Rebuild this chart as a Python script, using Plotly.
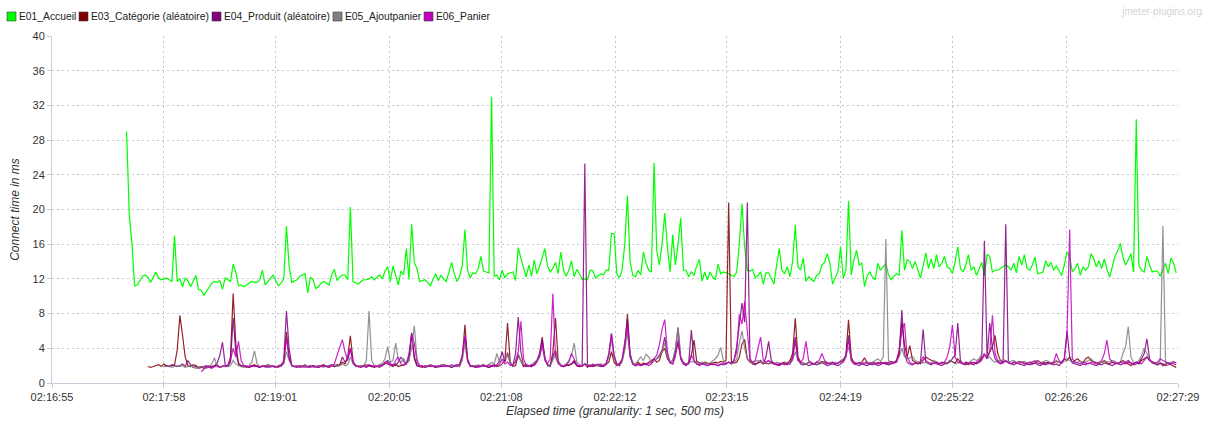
import plotly.graph_objects as go
import pandas as pd

DAY = "2024-01-01 "
TICK_LABELS = ["02:16:55", "02:17:58", "02:19:01", "02:20:05", "02:21:08", "02:22:12",
               "02:23:15", "02:24:19", "02:25:22", "02:26:26", "02:27:29"]
X_START, X_END = "02:16:55", "02:27:29"
Y_TICKS = [0, 4, 8, 12, 16, 20, 24, 28, 32, 36, 40]
STEP = "1500ms"

NAMES = ["E01_Accueil", "E03_Catégorie (aléatoire)", "E04_Produit (aléatoire)",
         "E05_Ajoutpanier", "E06_Panier"]
COLORS = ["#00FF00", "#800000", "#800080", "#808080", "#C000C0"]
STARTS = ["02:17:37", "02:17:49", "02:17:58", "02:17:58", "02:18:19"]

E01 = [
    29.0, 19.4, 16.1, 11.2, 11.3, 11.8, 12.3, 12.45, 12.2, 11.6, 12.2, 12.8, 12.1, 11.9, 12.0, 12.1, 11.9, 11.7, 17.0, 11.7,
    12.0, 11.1, 12.1, 11.8, 11.1, 11.8, 12.4, 10.8, 10.7, 10.1, 10.6, 11.1, 11.5, 11.7, 11.6, 11.8, 10.8, 12.1, 11.9, 11.7,
    13.7, 12.8, 11.2, 11.3, 11.1, 11.3, 11.5, 11.7, 11.6, 11.6, 11.9, 13.0, 11.3, 11.7, 12.1, 12.45, 11.8, 11.2, 11.5, 12.0,
    18.1, 13.5, 11.6, 11.8, 11.9, 12.3, 12.45, 12.6, 10.4, 12.2, 11.9, 10.9, 11.1, 11.5, 11.7, 11.5, 11.3, 12.45, 13.1, 11.8,
    12.2, 12.45, 12.45, 11.9, 20.3, 11.7, 11.5, 11.4, 11.7, 11.9, 11.9, 12.0, 12.25, 11.9, 12.2, 12.45, 12.0, 12.9, 13.4, 11.7,
    13.5, 12.4, 11.3, 12.9, 12.45, 15.5, 11.95, 18.3, 13.9, 13.2, 11.7, 11.8, 11.9, 11.6, 11.2, 11.9, 12.6, 11.8, 12.4, 12.0,
    11.7, 12.8, 13.9, 12.6, 11.7, 12.25, 13.5, 17.7, 13.0, 12.1, 12.7, 12.6, 13.2, 14.6, 12.9, 12.8, 12.7, 33.0, 12.3, 12.45,
    11.9, 13.0, 12.1, 12.6, 12.7, 12.8, 11.8, 15.6, 14.4, 13.2, 12.2, 13.6, 12.3, 14.2, 12.6, 13.4, 14.5, 15.5, 13.5, 12.8,
    13.2, 13.9, 12.6, 15.1, 13.0, 12.3, 13.0, 14.1, 12.25, 13.1, 12.6, 11.95, 12.0, 11.9, 13.0, 12.95, 12.1, 12.3, 12.6, 12.45,
    13.0, 12.95, 17.25, 17.2, 12.6, 12.1, 13.0, 16.0, 21.6, 14.0, 12.45, 12.25, 13.0, 12.45, 15.1, 13.8, 13.0, 12.8, 25.4, 15.3,
    13.6, 16.0, 19.6, 15.7, 12.8, 17.1, 13.6, 16.0, 19.0, 13.0, 13.0, 12.25, 12.8, 12.4, 13.5, 14.25, 11.75, 12.8, 11.9, 12.8,
    12.2, 11.95, 13.7, 12.6, 12.8, 12.7, 12.6, 12.4, 12.25, 12.8, 16.0, 20.7, 15.7, 13.0, 12.9, 13.1, 12.1, 12.4, 12.8, 11.4,
    12.7, 12.7, 12.0, 11.4, 13.6, 15.5, 13.0, 12.6, 13.4, 12.25, 14.0, 18.2, 13.4, 13.0, 14.4, 11.7, 12.25, 12.0, 11.7, 12.4,
    12.6, 13.6, 13.9, 14.9, 13.8, 11.4, 12.2, 12.8, 15.7, 12.1, 13.0, 21.0, 12.45, 14.2, 15.3, 13.6, 13.8, 11.1, 12.4, 12.8,
    12.2, 11.9, 13.8, 13.0, 13.4, 13.8, 12.45, 11.9, 12.3, 12.6, 12.45, 17.6, 13.0, 14.2, 14.0, 13.2, 14.0, 13.0, 12.1, 13.5,
    15.0, 13.2, 14.3, 13.2, 14.8, 13.4, 13.8, 14.6, 13.4, 13.2, 12.6, 14.0, 15.7, 13.2, 12.8, 13.6, 14.8, 13.0, 13.4, 12.4,
    13.2, 13.9, 12.4, 14.8, 14.6, 12.8, 13.0, 13.0, 13.2, 13.4, 13.6, 13.4, 13.0, 13.8, 12.7, 14.6, 13.6, 14.8, 13.2, 13.0,
    13.6, 14.5, 12.6, 12.7, 12.8, 14.1, 13.4, 13.9, 13.0, 13.5, 13.0, 12.4, 13.6, 15.1, 14.6, 12.8, 13.2, 13.8, 12.4, 13.4,
    13.0, 13.4, 14.9, 14.4, 13.4, 14.1, 13.2, 14.3, 13.1, 12.2, 13.4, 14.6, 15.2, 16.1, 14.5, 13.6, 14.2, 14.9, 12.8, 30.4,
    13.5, 13.0, 12.8, 14.6, 13.6, 12.8, 12.9, 12.9, 12.3, 13.0, 13.8, 12.6, 14.4, 13.8, 12.7,
]

E03 = [
    1.9, 1.8, 1.9, 2.0, 2.1, 1.9, 2.2, 2.0, 1.9, 2.0, 2.1, 3.8,
    7.8, 5.5, 3.0, 2.0, 1.9, 2.1, 2.0, 1.8, 1.9, 1.7, 1.9, 2.0, 1.8, 1.9, 2.1, 1.8, 1.9, 2.0, 1.9, 3.0,
    10.3, 4.5, 2.2, 1.9, 2.0, 1.8, 1.9, 2.0, 2.1, 1.9, 1.8, 2.0, 1.9, 2.1, 2.0, 1.9, 1.8, 2.0, 2.1, 2.4,
    5.9, 3.0, 2.0, 1.9, 1.8, 2.0, 1.9, 2.1, 1.8, 1.9, 2.0, 1.9, 1.8, 2.0, 2.1, 1.9, 1.8, 2.0, 1.9, 2.1,
    2.0, 2.4, 2.2, 3.0, 5.45, 2.5, 2.0, 1.9, 1.8, 2.0, 2.1, 2.0, 1.9, 1.8, 1.9, 2.1, 2.0, 2.3, 2.2, 2.0,
    1.9, 2.2, 1.9, 2.0, 2.1, 2.3, 2.6, 5.8, 2.8, 2.0, 1.9, 1.8, 2.0, 1.9, 2.1, 1.9, 1.8, 2.0, 1.9, 2.1,
    2.0, 1.9, 1.8, 2.0, 2.1, 1.9, 2.8, 6.7, 2.6, 1.9, 2.0, 1.8, 1.9, 2.0, 2.1, 1.9, 1.8, 2.0, 2.1, 1.9,
    2.0, 2.2, 2.6, 6.9, 2.4, 1.9, 2.0, 3.2, 2.5, 1.9, 2.1, 2.0, 1.9, 2.2, 2.6, 3.2, 5.3, 2.8, 2.1, 2.0,
    3.5, 7.5, 2.6, 2.0, 1.9, 2.1, 2.0, 2.2, 2.6, 2.0, 1.9, 2.0, 2.2, 1.8, 2.1, 1.9, 2.0, 2.0, 2.1, 1.9,
    2.2, 2.4, 3.6, 2.4, 2.0, 2.3, 2.6, 4.0, 7.95, 3.2, 2.2, 2.0, 2.4, 2.1, 2.3, 2.2, 2.4, 2.6, 2.8, 2.4,
    2.6, 3.6, 4.0, 2.8, 2.4, 2.6, 3.6, 4.6, 3.0, 2.4, 2.2, 2.3, 3.2, 4.95, 2.5, 2.3, 2.2, 2.4, 2.3, 2.2,
    2.3, 2.4, 2.3, 2.5, 2.4, 2.6, 20.8, 2.5, 2.3, 2.4, 3.0, 4.5, 5.0, 2.8, 2.4, 2.3, 2.2, 2.3, 2.4, 2.2,
    2.3, 2.2, 2.4, 2.3, 2.2, 2.1, 2.3, 2.4, 2.2, 2.6, 3.4, 7.45, 3.0, 2.4, 2.3, 2.2, 2.4, 2.3, 2.2, 2.4,
    2.3, 2.5, 2.4, 2.2, 2.3, 2.4, 2.2, 2.3, 2.5, 2.6, 3.2, 7.3, 3.0, 2.4, 2.3, 2.2, 2.4, 2.9, 2.3, 2.2,
    2.4, 2.3, 2.2, 2.4, 2.3, 2.2, 2.4, 2.5, 2.3, 2.6, 3.8, 7.0, 4.4, 3.0, 4.3, 2.6, 2.4, 2.3, 2.2, 2.6,
    3.0, 2.8, 2.6, 2.4, 2.3, 2.2, 2.4, 2.3, 2.2, 2.6, 2.4, 2.3, 2.8, 2.4, 2.2, 2.3, 2.1, 2.4, 2.3, 2.2,
    2.4, 2.8, 3.2, 3.0, 3.6, 4.2, 5.5, 3.4, 2.6, 2.4, 2.5, 2.3, 2.2, 2.4, 2.3, 2.5, 2.4, 2.2, 2.3, 2.4,
    2.2, 2.3, 2.6, 2.4, 2.2, 2.3, 2.4, 2.2, 2.3, 2.5, 2.4, 2.3, 2.8, 2.6, 3.0, 2.4, 2.6, 2.8, 2.5, 2.3,
    2.8, 3.0, 2.6, 2.4, 2.3, 2.2, 2.4, 2.6, 2.3, 2.2, 2.4, 2.3, 2.2, 2.4, 2.6, 2.3, 2.2, 2.0, 2.3, 2.4,
    2.2, 2.6, 2.8, 3.0, 2.6, 2.4, 2.2, 2.1, 2.3, 2.0, 2.2, 2.3, 2.1, 1.9, 1.8,
]

E04 = [
    1.9, 2.0, 1.9, 2.1, 2.0, 1.9,
    2.0, 2.2, 1.9, 2.6, 2.1, 1.8, 1.9, 1.7, 1.8, 1.9, 2.0, 1.8, 1.9, 2.0, 2.3, 3.2, 4.7, 2.1, 1.9, 2.4,
    7.5, 3.5, 2.3, 2.0, 1.9, 2.0, 1.8, 1.9, 2.0, 1.9, 1.8, 2.0, 1.9, 1.8, 2.0, 1.9, 1.8, 1.9, 2.0, 2.6,
    8.3, 4.0, 2.0, 1.9, 2.0, 1.8, 1.9, 2.0, 1.9, 1.8, 2.0, 1.9, 1.8, 1.9, 2.0, 1.9, 2.0, 2.1, 1.9, 2.0,
    2.1, 3.0, 2.4, 2.8, 4.0, 2.3, 2.0, 1.9, 2.0, 1.9, 1.8, 2.0, 1.9, 2.0, 1.9, 1.8, 2.0, 2.4, 2.6, 2.2,
    2.1, 2.0, 2.4, 3.0, 2.5, 2.2, 3.0, 5.5, 3.0, 2.0, 1.9, 2.0, 1.8, 1.9, 2.0, 1.9, 1.8, 2.0, 1.9, 2.0,
    1.9, 2.0, 1.8, 1.9, 2.0, 2.1, 3.0, 5.3, 2.8, 2.0, 1.9, 1.8, 2.0, 1.9, 2.0, 1.9, 1.8, 1.9, 2.0, 2.1,
    2.6, 3.6, 2.4, 3.5, 2.2, 2.0, 3.4, 7.6, 3.6, 2.0, 1.9, 2.0, 1.9, 2.1, 2.5, 3.4, 5.0, 3.0, 2.0, 1.9,
    3.0, 3.8, 2.4, 2.0, 1.9, 2.0, 2.1, 2.2, 2.4, 2.0, 1.9, 2.0, 25.3, 2.0, 1.9, 2.0, 2.1, 2.0, 1.9, 2.0,
    2.2, 3.2, 5.7, 3.0, 2.2, 2.0, 2.6, 4.4, 7.3, 3.4, 2.2, 2.0, 2.2, 2.0, 2.1, 2.2, 2.0, 2.2, 2.6, 2.8,
    3.2, 3.8, 5.3, 3.0, 2.3, 2.2, 3.6, 6.4, 2.8, 2.2, 2.0, 2.4, 6.1, 2.6, 2.2, 2.1, 2.3, 2.2, 2.0, 2.1,
    2.2, 2.1, 2.0, 2.2, 2.1, 2.2, 2.4, 2.2, 2.6, 4.2, 6.5, 9.2, 7.0, 20.8, 2.6, 2.2, 2.1, 2.3, 2.6, 2.2,
    3.0, 4.8, 2.6, 2.2, 2.1, 2.0, 2.2, 2.1, 2.3, 2.2, 3.0, 5.3, 2.8, 2.2, 2.1, 2.2, 2.0, 2.1, 2.2, 2.1,
    2.2, 2.3, 2.2, 2.0, 2.1, 2.2, 2.1, 2.0, 2.2, 2.4, 3.0, 5.5, 2.6, 2.2, 2.1, 2.0, 2.2, 2.1, 2.0, 2.2,
    2.1, 2.2, 2.0, 2.1, 2.3, 2.2, 2.1, 2.2, 2.3, 2.4, 3.2, 8.4, 3.4, 2.4, 2.2, 2.1, 2.3, 2.2, 2.4, 6.2,
    2.4, 2.2, 2.1, 2.3, 2.2, 2.1, 2.0, 2.2, 2.3, 2.4, 2.8, 3.2, 6.9, 2.6, 2.2, 2.1, 2.3, 2.2, 2.1, 2.4,
    2.6, 3.0, 16.4, 3.0, 6.9, 4.0, 2.8, 2.4, 2.2, 2.3, 18.3, 2.4, 2.2, 2.1, 2.3, 2.2, 2.1, 2.0, 2.2, 2.1,
    2.2, 2.3, 2.1, 2.0, 2.2, 2.1, 2.3, 2.2, 2.1, 2.2, 2.0, 2.4, 2.8, 6.0, 3.0, 2.3, 2.2, 2.1, 2.0, 2.2,
    2.1, 2.3, 2.2, 2.1, 2.0, 2.2, 2.1, 2.3, 2.2, 2.1, 2.0, 2.2, 2.3, 2.1, 2.2, 2.4, 2.6, 2.3, 2.1, 2.2,
    2.4, 2.8, 3.4, 5.1, 2.8, 2.3, 2.2, 2.1, 2.3, 2.2, 2.0, 2.1, 2.3, 2.2, 2.1,
]

E05 = [
    2.0, 1.9, 2.0, 1.8, 1.9, 2.0,
    1.9, 2.0, 1.8, 1.9, 2.0, 1.8, 1.7, 1.8, 1.9, 1.8, 1.7, 1.9, 2.2, 2.9, 1.9, 1.8, 1.9, 2.0, 1.9, 2.0,
    2.6, 2.2, 2.0, 1.9, 1.8, 1.9, 2.0, 2.4, 3.7, 2.2, 1.9, 2.0, 1.8, 1.9, 2.0, 1.9, 1.8, 2.0, 1.9, 2.2,
    3.6, 2.6, 2.1, 1.9, 2.0, 1.9, 1.8, 2.0, 1.9, 2.0, 1.8, 1.9, 2.0, 1.9, 1.8, 2.0, 1.9, 2.0, 2.1, 1.9,
    2.0, 2.2, 2.0, 2.1, 3.0, 2.2, 1.9, 2.0, 1.9, 2.0, 2.6, 8.3, 2.6, 2.0, 1.9, 2.1, 2.3, 2.8, 4.2, 2.4,
    2.6, 4.6, 2.6, 2.4, 2.8, 2.2, 2.6, 4.0, 6.6, 2.8, 2.0, 1.9, 2.0, 1.9, 2.0, 1.9, 2.0, 1.9, 2.1, 2.0,
    1.9, 2.0, 1.9, 2.0, 2.1, 2.0, 2.6, 4.5, 2.4, 2.0, 1.9, 2.0, 2.1, 2.0, 1.9, 2.0, 2.1, 2.4, 2.2, 3.4,
    2.4, 2.6, 2.8, 3.2, 2.4, 2.0, 2.6, 3.4, 2.6, 2.1, 2.2, 2.0, 2.1, 2.4, 2.6, 3.0, 4.2, 2.8, 2.2, 2.0,
    2.6, 3.4, 2.4, 2.1, 2.0, 2.2, 2.6, 3.2, 4.6, 2.4, 2.1, 2.0, 2.2, 2.1, 2.0, 2.2, 2.1, 2.0, 2.2, 2.1,
    2.3, 3.0, 5.0, 2.8, 2.2, 2.1, 2.4, 3.8, 5.8, 3.0, 2.4, 2.2, 2.6, 3.0, 2.6, 3.3, 3.0, 2.4, 2.6, 2.8,
    3.0, 3.6, 4.6, 3.0, 2.4, 2.6, 4.0, 6.4, 3.0, 2.3, 2.2, 2.3, 2.5, 2.4, 2.3, 2.2, 2.4, 2.3, 2.2, 2.3,
    2.5, 2.8, 3.2, 4.1, 2.6, 2.3, 2.4, 2.2, 2.3, 2.8, 4.6, 6.0, 4.0, 2.8, 2.4, 2.3, 2.5, 2.6, 2.4, 2.3,
    2.4, 2.6, 2.3, 2.2, 2.4, 2.3, 2.2, 2.3, 2.4, 2.2, 2.6, 3.6, 2.6, 2.4, 2.3, 2.2, 2.3, 2.4, 2.2, 2.3,
    2.4, 2.3, 2.5, 2.4, 2.2, 2.3, 2.4, 2.2, 2.6, 2.8, 3.0, 4.2, 2.8, 2.4, 2.2, 2.3, 2.4, 2.3, 2.2, 2.4,
    2.3, 2.6, 2.8, 2.5, 3.0, 16.6, 2.6, 2.3, 2.4, 2.6, 3.0, 4.0, 3.0, 2.8, 2.9, 3.1, 2.6, 2.4, 2.5, 2.3,
    2.4, 2.2, 2.3, 2.6, 2.4, 2.3, 2.2, 2.4, 2.3, 2.6, 2.4, 2.2, 2.3, 2.4, 2.2, 2.4, 2.3, 2.6, 2.8, 2.6,
    2.8, 3.4, 3.2, 2.8, 3.0, 2.6, 2.4, 2.6, 2.5, 2.7, 2.6, 2.4, 2.5, 2.6, 2.4, 2.3, 2.4, 2.5, 2.3, 2.4,
    2.4, 2.5, 2.3, 2.2, 2.4, 2.6, 2.5, 2.3, 2.4, 2.6, 2.4, 2.3, 2.5, 2.8, 2.6, 2.4, 2.3, 2.4, 2.5, 2.3,
    2.4, 2.6, 2.8, 2.5, 2.4, 2.3, 2.4, 2.3, 2.5, 2.4, 2.6, 2.5, 2.3, 2.4, 3.4, 4.2, 6.5, 3.0, 2.4, 2.3,
    2.6, 3.2, 4.0, 3.4, 2.6, 2.4, 2.3, 2.2, 2.6, 18.1, 2.4, 2.3, 2.4, 2.5, 2.3,
]

E06 = [
    1.3, 1.6, 1.9, 1.8, 1.7, 1.9, 2.0, 1.8, 2.0, 1.9, 2.1, 2.6,
    4.0, 3.0, 4.8, 2.6, 2.0, 1.9, 1.8, 2.0, 1.9, 2.0, 1.8, 1.9, 2.0, 1.9, 1.8, 2.0, 1.9, 1.8, 2.0, 2.4,
    5.2, 2.8, 2.0, 1.9, 1.8, 2.0, 1.9, 1.8, 1.9, 2.0, 1.9, 1.8, 2.0, 1.9, 2.0, 1.9, 1.8, 2.0, 2.2, 3.2,
    4.0, 5.0, 3.6, 2.6, 4.0, 2.4, 2.0, 1.9, 1.8, 2.0, 1.9, 2.1, 2.0, 1.9, 2.0, 1.9, 2.1, 2.2, 2.4, 2.1,
    2.0, 2.6, 3.0, 2.2, 2.0, 2.2, 3.4, 5.7, 4.6, 2.4, 2.0, 1.9, 1.8, 2.0, 1.9, 2.0, 1.9, 1.8, 2.0, 1.9,
    2.0, 1.9, 2.1, 2.0, 1.9, 2.2, 3.2, 5.5, 2.6, 2.0, 1.9, 2.0, 1.8, 1.9, 2.0, 1.9, 2.1, 2.0, 1.9, 2.0,
    2.2, 2.8, 2.2, 2.4, 2.0, 2.1, 2.4, 3.6, 7.1, 2.8, 2.0, 1.9, 2.1, 2.0, 2.4, 3.0, 4.6, 2.6, 2.2, 2.8,
    10.3, 3.0, 2.2, 2.0, 1.9, 2.1, 2.4, 3.4, 2.8, 2.1, 2.0, 1.9, 2.2, 2.0, 1.9, 2.1, 2.0, 2.2, 2.0, 1.9,
    2.2, 3.4, 5.7, 3.2, 2.2, 2.0, 2.8, 4.8, 6.5, 3.0, 2.2, 2.0, 2.1, 2.0, 2.2, 2.1, 2.3, 2.4, 2.8, 3.2,
    4.4, 6.2, 7.3, 3.6, 2.4, 2.2, 3.0, 5.0, 2.8, 2.2, 2.1, 2.2, 3.2, 2.6, 2.2, 2.0, 2.2, 2.1, 2.0, 2.2,
    2.1, 2.2, 2.0, 2.1, 2.3, 2.2, 2.4, 2.3, 2.6, 3.6, 7.9, 6.8, 9.4, 6.0, 2.8, 2.4, 2.6, 4.0, 5.3, 2.6,
    2.4, 2.6, 2.3, 2.2, 2.1, 2.2, 2.3, 2.2, 2.1, 2.3, 2.8, 4.8, 2.6, 2.4, 2.8, 4.8, 2.6, 2.3, 2.2, 2.4,
    2.6, 3.4, 2.6, 2.3, 2.2, 2.4, 2.2, 2.3, 2.4, 2.6, 3.2, 5.0, 2.8, 2.3, 2.2, 2.4, 2.2, 2.3, 2.4, 2.2,
    2.3, 2.2, 2.4, 2.2, 2.3, 2.4, 2.2, 2.3, 2.4, 2.5, 3.4, 6.0, 6.9, 3.0, 2.4, 2.2, 2.3, 2.2, 2.4, 3.0,
    2.6, 2.4, 2.2, 2.3, 2.4, 2.2, 2.3, 2.4, 3.0, 4.2, 6.7, 3.0, 2.4, 2.3, 2.2, 2.4, 2.3, 2.2, 2.4, 2.3,
    2.4, 2.6, 3.4, 2.8, 3.6, 7.8, 3.4, 2.6, 2.3, 2.4, 2.6, 2.3, 2.2, 2.4, 2.3, 2.2, 2.4, 2.3, 2.2, 2.3,
    2.4, 2.6, 2.3, 2.2, 2.4, 2.3, 2.2, 2.3, 2.4, 3.4, 2.6, 2.3, 2.8, 5.6, 17.7, 2.8, 2.4, 2.3, 2.2, 2.4,
    2.3, 2.2, 2.4, 2.3, 2.2, 2.4, 2.6, 3.4, 4.95, 2.8, 2.4, 2.3, 2.2, 2.4, 2.3, 2.2, 2.4, 2.3, 2.2, 2.4,
    2.3, 2.2, 2.6, 3.0, 2.6, 2.4, 2.3, 2.4, 2.8, 2.6, 2.4, 2.3, 2.2, 2.4, 2.3,
]

SERIES = [E01, E03, E04, E05, E06]

# ---- layout geometry (pixels) ----
W, H = 1212, 423
ML, MR, MT, MB = 52, 34, 36, 40
PW, PH = W - ML - MR, H - MT - MB


def px(x):
    return (x - ML) / PW


def py(y):
    return (H - MB - y) / PH


FONT = "Liberation Sans, Arial, sans-serif"

fig = go.Figure()
for name, color, start, vals in zip(NAMES, COLORS, STARTS, SERIES):
    t = pd.date_range(DAY + start, periods=len(vals), freq=STEP)
    fig.add_trace(go.Scatter(
        x=t, y=vals, mode="lines", name=name,
        line=dict(color=color, width=1.2),
        opacity=1.0 if name.startswith("E01") else 0.85,
        hoverinfo="skip",
    ))

# legend drawn as squares + text
LEG_SQ = [7, 79, 212, 333, 424]
LEG_TX = [17, 89, 222, 343, 434]
shapes = []
annotations = []
for name, color, sx, tx in zip(NAMES, COLORS, LEG_SQ, LEG_TX):
    shapes.append(dict(type="rect", xref="paper", yref="paper",
                       x0=px(sx), x1=px(sx + 9), y0=py(21), y1=py(12),
                       fillcolor=color, line=dict(color="rgba(60,60,60,0.6)", width=1)))
    annotations.append(dict(xref="paper", yref="paper", x=px(tx), y=py(16.5),
                            xanchor="left", yanchor="middle", showarrow=False,
                            text=name, font=dict(family=FONT, size=10.3, color="#222")))

annotations.append(dict(xref="paper", yref="paper", x=px(1204), y=py(12),
                        xanchor="right", yanchor="middle", showarrow=False,
                        text="jmeter-plugins.org",
                        font=dict(family=FONT, size=10, color="#D4D4D4")))

fig.update_layout(
    width=W, height=H,
    margin=dict(l=ML, r=MR, t=MT, b=MB),
    plot_bgcolor="white", paper_bgcolor="white",
    showlegend=False,
    font=dict(family=FONT, size=11, color="#333333"),
    shapes=shapes, annotations=annotations,
)

GRID_DASH = "2px,3px"
fig.update_xaxes(
    type="date",
    range=[DAY + X_START, DAY + X_END],
    tickvals=[DAY + s for s in TICK_LABELS], ticktext=TICK_LABELS,
    showgrid=True, gridcolor="#C2C6D0", griddash=GRID_DASH, gridwidth=1,
    showline=True, linecolor="#C8CEDA", linewidth=1,
    ticks="outside", ticklen=4, tickcolor="#C8CEDA",
    tickfont=dict(family=FONT, size=11, color="#333333"),
    title=dict(text="<i>Elapsed time (granularity: 1 sec, 500 ms)</i>",
               font=dict(family=FONT, size=12, color="#333333"), standoff=4),
    zeroline=False, automargin=False,
)
fig.update_yaxes(
    range=[0, 40], tickvals=Y_TICKS,
    showgrid=True, gridcolor="#C2C6D0", griddash=GRID_DASH, gridwidth=1,
    showline=True, linecolor="#C8CEDA", linewidth=1,
    ticks="outside", ticklen=4, tickcolor="#C8CEDA",
    tickfont=dict(family=FONT, size=11, color="#333333"),
    title=dict(text="<i>Connect time in ms</i>",
               font=dict(family=FONT, size=12, color="#333333"), standoff=10),
    zeroline=False, automargin=False,
)

fig.write_html("out.html", config={"displayModeBar": False},
               post_script="document.body.style.margin='0px';")
